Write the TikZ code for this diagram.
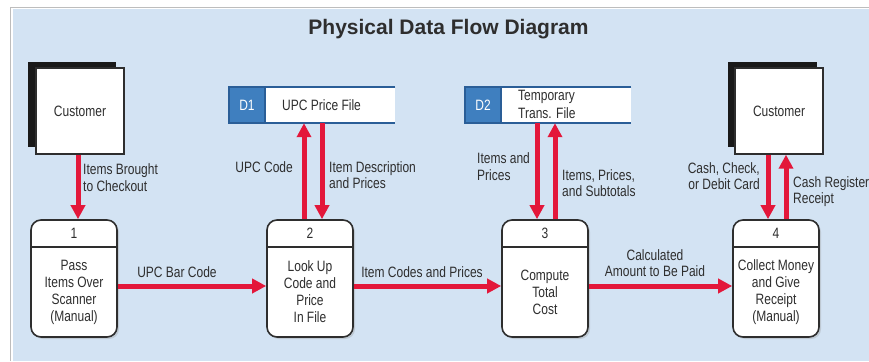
\documentclass[tikz,border=0pt]{standalone}
\usepackage{fontspec}
\setmainfont{Liberation Sans}
\newfontfamily\cond{Liberation Sans}[FakeStretch=0.8]
\usetikzlibrary{arrows.meta,shadows}

\definecolor{panel}{HTML}{D3E3F3}
\definecolor{framegray}{HTML}{BDBDBD}
\definecolor{ink}{HTML}{2E2E2E}
\definecolor{flowred}{HTML}{E3173A}
\definecolor{storeblue}{HTML}{3F7FBF}
\definecolor{storeedge}{HTML}{2A5E97}

\tikzset{
  lbl/.style={font=\cond\fontsize{15}{16.5}\selectfont, text=ink, inner sep=0pt},
  entity/.style={draw=ink, line width=1.4pt, fill=white, minimum width=88pt,
    minimum height=86pt, inner sep=0pt, font=\cond\fontsize{15}{16.5}\selectfont, text=ink},
  entityshadow/.style={fill=black!90, minimum width=88pt, minimum height=85pt, inner sep=0pt},
  proc/.style={draw=ink, line width=1.6pt, fill=white, rounded corners=10pt,
    minimum width=86pt, minimum height=117pt, inner sep=0pt,
    drop shadow={shadow xshift=2pt, shadow yshift=-2pt, fill=black!40, opacity=.35}},
  procline/.style={draw=ink, line width=1.6pt},
  storeid/.style={fill=storeblue, minimum width=36pt, minimum height=36pt, inner sep=0pt,
    font=\cond\fontsize{15}{16.5}\selectfont, text=white},
  storebody/.style={fill=white, minimum width=130pt, minimum height=36pt, inner sep=0pt},
  storeline/.style={draw=storeedge, line width=2pt},
  flow/.style={draw=flowred, line width=5pt, -{Triangle[length=14pt,width=14pt]}},
}

\begin{document}
\begin{tikzpicture}[x=1pt,y=-1pt]
\useasboundingbox (0,0) rectangle (869,361);
\fill[white] (0,0) rectangle (869,361);
\fill[panel] (12.5,9) rectangle (869,361);
\draw[framegray, line width=1.5pt] (10.5,361) -- (10.5,7.5) -- (869,7.5);

% title
\node[anchor=base, font=\bfseries\fontsize{21}{24}\selectfont, text=ink, inner sep=0pt]
  (title) at (448.5,34.5) {Physical Data Flow Diagram};

% external entities
\node[entityshadow] (c1s) at (72,104.5) {};
\node[entity] (c1) at (80,111) {Customer};
\node[entityshadow, minimum width=89pt] (c2s) at (772.5,104.5) {};
\node[entity] (c2) at (779,111) {Customer};

% data stores
\node[storebody, anchor=west] (d1) at (265,105) {};
\node[storeid] (d1id) at (247,105) {D1};
\draw[storeline] (d1.north east) -- (d1id.north west) -- (d1id.south west) -- (d1.south east);
\draw[storeline] (d1id.north east) -- (d1id.south east);
\node[lbl, anchor=west] (d1t) at (282,105) {UPC Price File};

\node[storebody, anchor=west] (d2) at (501,105) {};
\node[storeid] (d2id) at (483,105) {D2};
\draw[storeline] (d2.north east) -- (d2id.north west) -- (d2id.south west) -- (d2.south east);
\draw[storeline] (d2id.north east) -- (d2id.south east);
\node[lbl, anchor=west, align=left, font=\cond\fontsize{15}{18}\selectfont] (d2t) at (518,104) {Temporary\\Trans. File};

% processes
\foreach \name/\cx/\num in {p1/74/1, p2/310/2, p3/545/3, p4/776/4}{
  \node[proc] (\name) at (\cx,278.5) {};
  \draw[procline] ([yshift=-28pt]\name.north west) -- ([yshift=-28pt]\name.north east);
  \node[lbl] (\name n) at ([yshift=-14pt]\name.north) {\num};
}
\node[lbl, align=center, font=\cond\fontsize{15}{17}\selectfont] (p1t) at ([yshift=-13.5pt]p1.center) {Pass\\Items Over\\Scanner\\(Manual)};
\node[lbl, align=center, font=\cond\fontsize{15}{17}\selectfont] (p2t) at ([yshift=-13.5pt]p2.center) {Look Up\\Code and\\Price\\In File};
\node[lbl, align=center, font=\cond\fontsize{15}{17}\selectfont] (p3t) at ([yshift=-13.5pt]p3.center) {Compute\\Total\\Cost};
\node[lbl, align=center, font=\cond\fontsize{15}{17}\selectfont] (p4t) at ([yshift=-13.5pt]p4.center) {Collect Money\\and Give\\Receipt\\(Manual)};

% data flows
\draw[flow] ([xshift=-2pt]c1.south) -- ([xshift=4pt]p1.north);
\draw[flow] ([yshift=-7.5pt]p1.east) -- ([yshift=-7.5pt]p2.west);
\draw[flow] ([yshift=-7.5pt]p2.east) -- ([yshift=-7.5pt]p3.west);
\draw[flow] ([yshift=-7.5pt]p3.east) -- ([yshift=-7.5pt]p4.west);
\draw[flow] ([xshift=-6pt]p2.north) -- ([xshift=-6pt]p2.north |- d1.south);
\draw[flow] ([xshift=12pt]p2.north |- d1.south) -- ([xshift=12pt]p2.north);
\draw[flow] ([xshift=-8pt]p3.north |- d2.south) -- ([xshift=-8pt]p3.north);
\draw[flow] ([xshift=10pt]p3.north) -- ([xshift=10pt]p3.north |- d2.south);
\draw[flow] ([xshift=-8pt]p4.north |- c2.south) -- ([xshift=-8pt]p4.north);
\draw[flow] ([xshift=10pt]p4.north) -- ([xshift=10pt]p4.north |- c2.south);

% flow labels
\node[lbl, anchor=west, align=left] (f1) at (83,177.5) {Items Brought\\to Checkout};
\node[lbl, anchor=east] (f2) at (293,167) {UPC Code};
\node[lbl, anchor=west, align=left] (f3) at (329,175) {Item Description\\and Prices};
\node[lbl, anchor=west, align=left] (f4) at (477,166.5) {Items and\\Prices};
\node[lbl, anchor=west, align=left] (f5) at (562,183) {Items, Prices,\\and Subtotals};
\node[lbl, anchor=east, align=right] (f6) at (760,176) {Cash, Check,\\or Debit Card};
\node[lbl, anchor=west, align=left] (f7) at (793,191.5) {Cash Register\\Receipt};
\node[lbl] (f8) at (177,272) {UPC Bar Code};
\node[lbl] (f9) at (422,272) {Item Codes and Prices};
\node[lbl, align=center] (f10) at (655,263) {Calculated\\Amount to Be Paid};
\end{tikzpicture}
\end{document}
